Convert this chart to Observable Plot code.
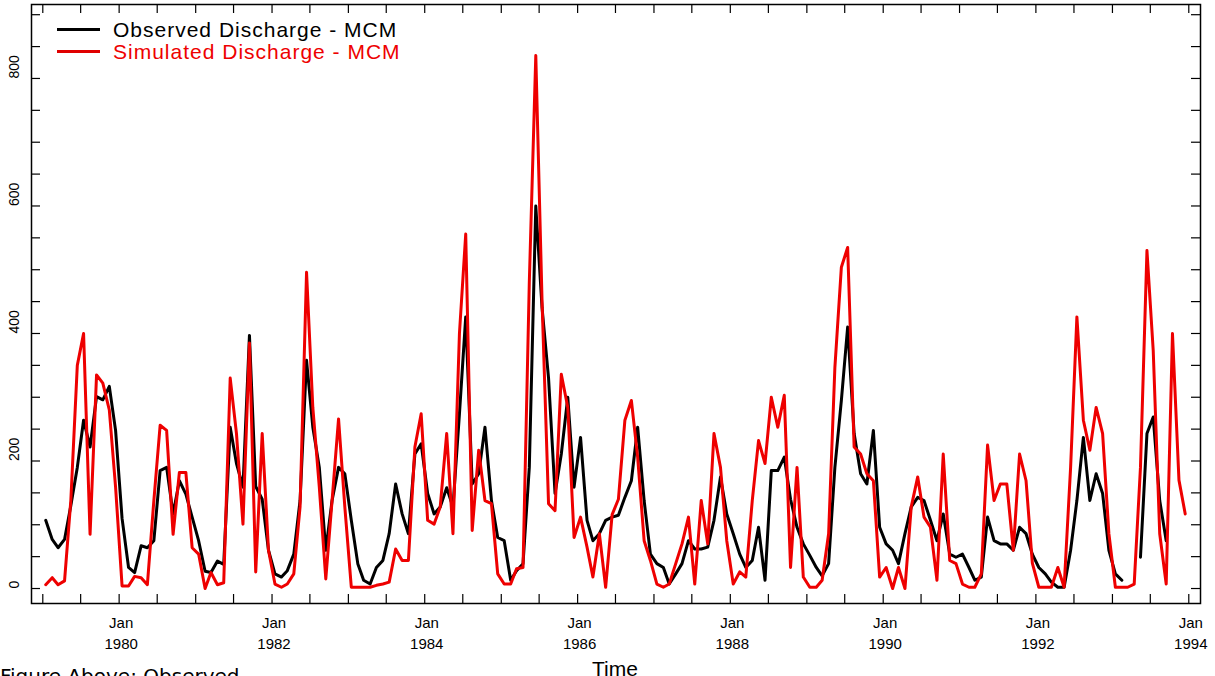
<!DOCTYPE html>
<html>
<head>
<meta charset="utf-8">
<script src="https://cdn.jsdelivr.net/npm/d3@7"></script>
<script src="https://cdn.jsdelivr.net/npm/@observablehq/plot@0.6"></script>
<style>
  html, body { margin: 0; padding: 0; background: #fff; }
  body { width: 1215px; height: 676px; overflow: hidden; position: relative; font-family: "Liberation Sans", Arial, sans-serif; }
  #chart { position: absolute; left: 0; top: 0; }
  .leg { position: absolute; left: 57px; height: 22px; line-height: 22px; font-size: 21px; letter-spacing: 1px; white-space: nowrap; }
  .leg .sw { position: absolute; left: 0; top: 9px; width: 43px; height: 3px; }
  .leg .tx { position: absolute; left: 56px; top: 0; }
  #xlab { position: absolute; left: 540px; width: 150px; text-align: center; top: 657px; font-size: 21px; line-height: 24px; }
  #caption { position: absolute; left: 0; top: 664px; font-family: "DejaVu Sans", sans-serif; font-size: 20px; white-space: nowrap; }
</style>
</head>
<body>
<div id="chart"></div>
<div class="leg" style="top:19px"><span class="sw" style="background:#000"></span><span class="tx" style="color:#000">Observed Discharge - MCM</span></div>
<div class="leg" style="top:41px"><span class="sw" style="background:#e00000"></span><span class="tx" style="color:#ee0000">Simulated Discharge - MCM</span></div>
<div id="xlab">Time</div>
<div id="caption">Figure Above: Observed</div>
<script>
// Monthly series, January 1979 to December 1993 (null = missing)
const startYear = 1979;
const observed = [
  107, 77, 64, 77, 130, 190, 264, 222, 301, 296, 317, 248,
  110, 33, 25, 67, 64, 75, 185, 190, 117, 169, 148, 112,
  75, 27, 25, 43, 38, 253, 196, 159, 397, 160, 140, 60,
  23, 18, 28, 54, 138, 358, 253, 190, 60, 138, 190, 180,
  107, 39, 13, 7, 33, 44, 86, 164, 117, 86, 211, 227,
  149, 117, 128, 158, 128, 274, 426, 164, 180, 253, 138, 80,
  75, 13, 28, 39, 190, 600, 440, 330, 149, 211, 300, 159,
  237, 107, 75, 86, 107, 112, 115, 143, 169, 253, 138, 54,
  39, 33, 7, 23, 39, 75, 62, 62, 65, 107, 175, 117,
  86, 54, 33, 44, 96, 13, 185, 185, 206, 140, 96, 70,
  52, 33, 20, 39, 190, 295, 410, 243, 180, 164, 248, 96,
  70, 60, 39, 86, 128, 143, 138, 107, 75, 117, 54, 49,
  54, 33, 13, 18, 112, 75, 70, 70, 60, 96, 86, 54,
  33, 23, 10, 2, 2, 60, 138, 237, 138, 180, 149, 60,
  23, 13, null, null, 49, 243, 269, 138, 75, null, null, null
];
const simulated = [
  6, 17, 6, 12, 138, 350, 400, 85, 335, 322, 280, 159,
  4, 4, 19, 17, 6, 138, 256, 248, 85, 182, 182, 64,
  54, 0, 25, 6, 9, 330, 243, 101, 385, 26, 243, 60,
  7, 2, 7, 23, 128, 496, 284, 159, 15, 138, 266, 128,
  2, 2, 2, 2, 5, 7, 10, 62, 44, 44, 222, 274,
  107, 101, 128, 243, 86, 400, 556, 91, 217, 138, 133, 23,
  7, 7, 31, 33, 480, 836, 450, 133, 122, 336, 284, 80,
  112, 65, 18, 86, 2, 116, 140, 264, 295, 206, 75, 44,
  7, 2, 7, 39, 70, 112, 7, 138, 70, 243, 190, 75,
  7, 26, 18, 138, 232, 196, 300, 253, 303, 33, 190, 18,
  2, 2, 13, 86, 347, 504, 535, 222, 211, 180, 169, 18,
  33, 0, 33, 0, 128, 175, 112, 96, 13, 211, 44, 39,
  7, 2, 2, 23, 225, 138, 164, 164, 60, 211, 169, 40,
  2, 2, 2, 33, 2, 190, 426, 264, 217, 284, 243, 86,
  2, 2, 2, 7, 190, 530, 373, 86, 7, 400, 170, 117
];
const yTickValues = [0, 50, 100, 150, 200, 250, 300, 350, 400, 450, 500, 550, 600, 650, 700, 750, 800, 850, 900];
const yLabelValues = [0, 200, 400, 600, 800];
const xLabelYears = [1980, 1982, 1984, 1986, 1988, 1990, 1992, 1994];

const rows = observed.map((v, i) => ({
  date: new Date(Date.UTC(startYear, i, 15)),
  obs: v,
  sim: simulated[i]
}));
const tickDates = d3.utcMonth.every(6).range(new Date(Date.UTC(1979, 0, 1)), new Date(Date.UTC(1994, 1, 1)));
const labelDates = xLabelYears.map(y => new Date(Date.UTC(y, 0, 1)));

const W = 1215, H = 676, mL = 31, mR = 15, mT = 4, mB = 73;
const innerW = W - mL - mR, innerH = H - mT - mB, tk = 9;

const chart = Plot.plot({
  width: W, height: H,
  marginLeft: mL, marginRight: mR, marginTop: mT, marginBottom: mB,
  style: { fontFamily: "'Liberation Sans', Arial, sans-serif", fontSize: "15px", background: "white", color: "black" },
  x: { type: "utc", domain: [new Date(Date.UTC(1978, 10, 8)), new Date(Date.UTC(1994, 1, 26))], axis: null },
  y: { domain: [-23.5, 916], axis: null },
  marks: [
    Plot.line(rows, { x: "date", y: "obs", stroke: "black", strokeWidth: 3 }),
    Plot.line(rows, { x: "date", y: "sim", stroke: "#ee0000", strokeWidth: 3 }),
    Plot.tickX(tickDates, { x: d => d, insetTop: innerH - tk, stroke: "black", strokeWidth: 1.2 }),
    Plot.tickX(tickDates, { x: d => d, insetBottom: innerH - tk, stroke: "black", strokeWidth: 1.2 }),
    Plot.tickY(yTickValues, { y: d => d, insetRight: innerW - tk, stroke: "black", strokeWidth: 1.2 }),
    Plot.tickY(yTickValues, { y: d => d, insetLeft: innerW - tk, stroke: "black", strokeWidth: 1.2 }),
    Plot.text(yLabelValues, { y: d => d, text: d => String(d), frameAnchor: "left", dx: -17, rotate: -90, fontSize: 14, fill: "black" }),
    Plot.text(labelDates, { x: d => d, text: d => `Jan\n${d.getUTCFullYear()}`, frameAnchor: "bottom", lineAnchor: "top", dy: 10, dx: 2, lineHeight: 1.4, fontSize: 15, fill: "black" }),
    Plot.frame({ stroke: "black", strokeWidth: 1.5 })
  ]
});
document.getElementById("chart").appendChild(chart);
</script>
</body>
</html>
